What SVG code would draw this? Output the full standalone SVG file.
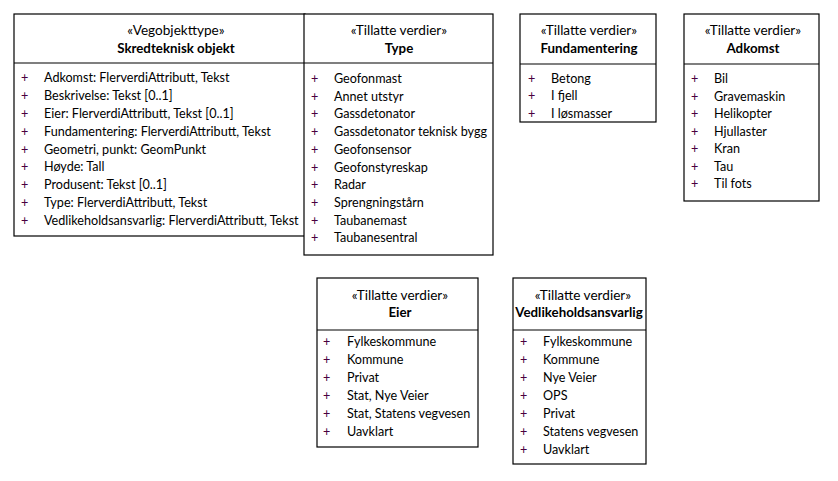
<svg xmlns="http://www.w3.org/2000/svg" width="838" height="481" viewBox="0 0 838 481">
<style>
.box{fill:#fff;stroke:#000;stroke-width:1.2}
.sep{stroke:#000;stroke-width:1.2}
text{font-family:Lato,"Liberation Sans",sans-serif;font-size:12.6px;fill:#000}
.st{text-anchor:middle;font-size:13.6px}
.nm{text-anchor:middle;font-weight:bold;font-size:13.3px}
.pl{fill:#4a0040}
</style>
<rect width="838" height="481" fill="#fff"/>
<g id="connectors"></g>
<g id="skredteknisk">
<rect class="box" x="14" y="14" width="291" height="222"/>
<line class="sep" x1="14" y1="63" x2="305" y2="63"/>
<text class="st" x="176" y="35">«Vegobjekttype»</text>
<text class="nm" x="176" y="52.5">Skredteknisk objekt</text>
<text class="pl" x="21" y="82.3">+</text><text class="pl" x="21" y="100.1">+</text><text class="pl" x="21" y="117.9">+</text><text class="pl" x="21" y="135.7">+</text><text class="pl" x="21" y="153.5">+</text><text class="pl" x="21" y="171.3">+</text><text class="pl" x="21" y="189.1">+</text><text class="pl" x="21" y="206.9">+</text><text class="pl" x="21" y="224.7">+</text>
<text x="44" y="82.3">Adkomst: FlerverdiAttributt, Tekst</text>
<text x="44" y="100.1">Beskrivelse: Tekst [0..1]</text>
<text x="44" y="117.9">Eier: FlerverdiAttributt, Tekst [0..1]</text>
<text x="44" y="135.7">Fundamentering: FlerverdiAttributt, Tekst</text>
<text x="44" y="153.5">Geometri, punkt: GeomPunkt</text>
<text x="44" y="171.3">Høyde: Tall</text>
<text x="44" y="189.1">Produsent: Tekst [0..1]</text>
<text x="44" y="206.9">Type: FlerverdiAttributt, Tekst</text>
<text x="44" y="224.7">Vedlikeholdsansvarlig: FlerverdiAttributt, Tekst</text>
</g>
<g id="type">
<rect class="box" x="304" y="14" width="189" height="241"/>
<line class="sep" x1="304" y1="63" x2="493" y2="63"/>
<text class="st" x="399" y="35">«Tillatte verdier»</text>
<text class="nm" x="399" y="52.5">Type</text>
<text class="pl" x="311" y="83">+</text><text class="pl" x="311" y="100.7">+</text><text class="pl" x="311" y="118.4">+</text><text class="pl" x="311" y="136.1">+</text><text class="pl" x="311" y="153.8">+</text><text class="pl" x="311" y="171.5">+</text><text class="pl" x="311" y="189.2">+</text><text class="pl" x="311" y="206.9">+</text><text class="pl" x="311" y="224.6">+</text><text class="pl" x="311" y="242.3">+</text>
<text x="334" y="83">Geofonmast</text>
<text x="334" y="100.7">Annet utstyr</text>
<text x="334" y="118.4">Gassdetonator</text>
<text x="334" y="136.1">Gassdetonator teknisk bygg</text>
<text x="334" y="153.8">Geofonsensor</text>
<text x="334" y="171.5">Geofonstyreskap</text>
<text x="334" y="189.2">Radar</text>
<text x="334" y="206.9">Sprengningstårn</text>
<text x="334" y="224.6">Taubanemast</text>
<text x="334" y="242.3">Taubanesentral</text>
</g>
<g id="fundamentering">
<rect class="box" x="520" y="14" width="136" height="108"/>
<line class="sep" x1="520" y1="64" x2="656" y2="64"/>
<text class="st" x="589" y="35">«Tillatte verdier»</text>
<text class="nm" x="589" y="52.5">Fundamentering</text>
<text class="pl" x="528" y="82.5">+</text><text class="pl" x="528" y="100">+</text><text class="pl" x="528" y="117.5">+</text>
<text x="551" y="82.5">Betong</text>
<text x="551" y="100">I fjell</text>
<text x="551" y="117.5">I løsmasser</text>
</g>
<g id="adkomst">
<rect class="box" x="684" y="14" width="135" height="187"/>
<line class="sep" x1="684" y1="64" x2="819" y2="64"/>
<text class="st" x="753" y="35">«Tillatte verdier»</text>
<text class="nm" x="753" y="52.5">Adkomst</text>
<text class="pl" x="691" y="83">+</text><text class="pl" x="691" y="100.5">+</text><text class="pl" x="691" y="118">+</text><text class="pl" x="691" y="135.5">+</text><text class="pl" x="691" y="153">+</text><text class="pl" x="691" y="170.5">+</text><text class="pl" x="691" y="188">+</text>
<text x="714" y="83">Bil</text>
<text x="714" y="100.5">Gravemaskin</text>
<text x="714" y="118">Helikopter</text>
<text x="714" y="135.5">Hjullaster</text>
<text x="714" y="153">Kran</text>
<text x="714" y="170.5">Tau</text>
<text x="714" y="188">Til fots</text>
</g>
<g id="eier">
<rect class="box" x="317" y="278" width="161" height="169"/>
<line class="sep" x1="317" y1="330" x2="478" y2="330"/>
<text class="st" x="400" y="300">«Tillatte verdier»</text>
<text class="nm" x="400" y="317">Eier</text>
<text class="pl" x="323" y="346.3">+</text><text class="pl" x="323" y="364.2">+</text><text class="pl" x="323" y="382.1">+</text><text class="pl" x="323" y="400">+</text><text class="pl" x="323" y="417.9">+</text><text class="pl" x="323" y="435.8">+</text>
<text x="347" y="346.3">Fylkeskommune</text>
<text x="347" y="364.2">Kommune</text>
<text x="347" y="382.1">Privat</text>
<text x="347" y="400">Stat, Nye Veier</text>
<text x="347" y="417.9">Stat, Statens vegvesen</text>
<text x="347" y="435.8">Uavklart</text>
</g>
<g id="vedlikeholdsansvarlig">
<rect class="box" x="513" y="278" width="133" height="186"/>
<line class="sep" x1="513" y1="330" x2="646" y2="330"/>
<text class="st" x="583" y="300">«Tillatte verdier»</text>
<text class="nm" x="579" y="317">Vedlikeholdsansvarlig</text>
<text class="pl" x="520" y="346">+</text><text class="pl" x="520" y="364">+</text><text class="pl" x="520" y="382">+</text><text class="pl" x="520" y="400">+</text><text class="pl" x="520" y="418">+</text><text class="pl" x="520" y="436">+</text><text class="pl" x="520" y="454">+</text>
<text x="543" y="346">Fylkeskommune</text>
<text x="543" y="364">Kommune</text>
<text x="543" y="382">Nye Veier</text>
<text x="543" y="400">OPS</text>
<text x="543" y="418">Privat</text>
<text x="543" y="436">Statens vegvesen</text>
<text x="543" y="454">Uavklart</text>
</g>
</svg>
